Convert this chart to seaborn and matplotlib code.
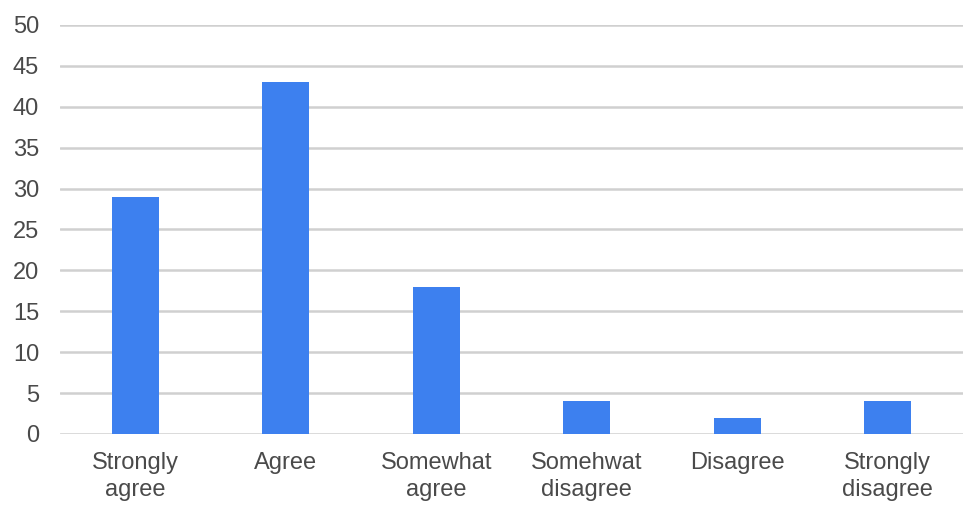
import matplotlib
matplotlib.use("Agg")
import matplotlib.pyplot as plt
import seaborn as sns
import pandas as pd

categories = ["Strongly\nagree", "Agree", "Somewhat\nagree",
              "Somehwat\ndisagree", "Disagree", "Strongly\ndisagree"]
counts = [29, 43, 18, 4, 2, 4]
yticks = [0, 5, 10, 15, 20, 25, 30, 35, 40, 45, 50]

df = pd.DataFrame({"category": categories, "count": counts})

sns.set_style("white")
plt.rcParams["font.family"] = ["Liberation Sans", "DejaVu Sans"]

fig = plt.figure(figsize=(9.63, 5.16), dpi=100)
ax = fig.add_axes([0.0623, 0.159, 0.9377, 0.7926])

sns.barplot(data=df, x="category", y="count", color="#3d80ef",
            saturation=1, width=0.31, linewidth=0, ax=ax)

ax.set_ylim(0, 50)
ax.set_xlim(-0.5, 5.5)
ax.set_yticks(yticks)
ax.yaxis.grid(True, color="#d0d0d0", linewidth=1.8)
ax.set_axisbelow(True)
for s in ax.spines.values():
    s.set_visible(False)
ax.set_xlabel("")
ax.set_ylabel("")
ax.tick_params(axis="y", length=0, pad=15, labelsize=17, labelcolor="#4a4a4a")
ax.tick_params(axis="x", length=0, pad=13, labelsize=17, labelcolor="#4a4a4a")
for lbl in ax.get_xticklabels():
    lbl.set_linespacing(1.3)

fig.savefig("out.png", dpi=100)
